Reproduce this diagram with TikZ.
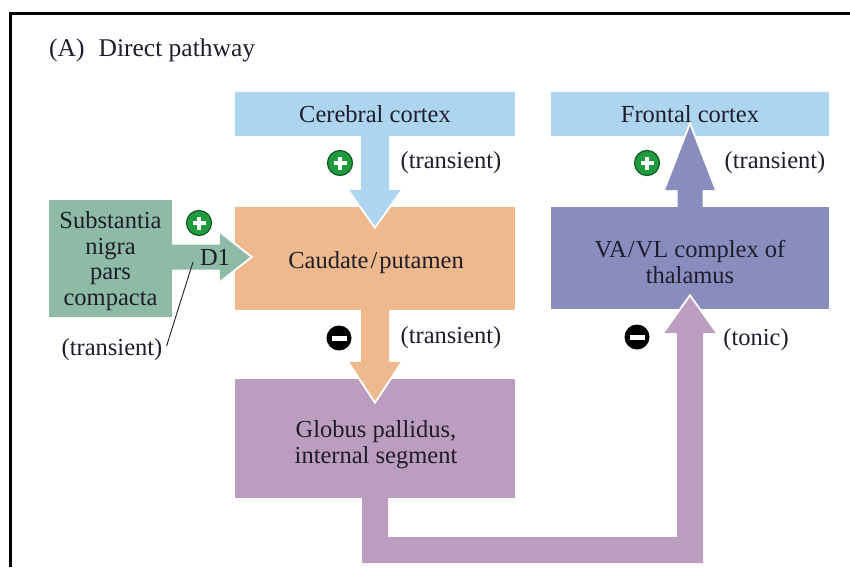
\documentclass[tikz,border=0pt]{standalone}
\usepackage{fontspec}
\setmainfont{Liberation Serif}
\usetikzlibrary{calc}
\definecolor{cortexblue}{HTML}{AED5EF}
\definecolor{caudcol}{HTML}{EEB98C}
\definecolor{sncol}{HTML}{8DBBA5}
\definecolor{gpcol}{HTML}{BB9DBF}
\definecolor{thcol}{HTML}{898DBE}
\definecolor{txtcol}{HTML}{1F1D2B}
\definecolor{plusgreen}{HTML}{1F9A3E}
\definecolor{plusdark}{HTML}{0E5A22}
\begin{document}
\begin{tikzpicture}[x=1pt,y=-1pt,
  every node/.style={text=txtcol, font=\fontsize{24.5}{25.5}\selectfont},
  box/.style={rectangle, inner sep=0pt, draw=none},
  lbl/.style={inner sep=0pt},
  mlbl/.style={inner sep=0pt, align=center},
  plusic/.style={circle, minimum size=25pt, inner sep=0pt, fill=plusgreen, draw=plusdark, line width=1.2pt,
    path picture={
      \draw[white,line width=4.5pt] ([xshift=-6.5pt]path picture bounding box.center) -- ([xshift=6.5pt]path picture bounding box.center);
      \draw[white,line width=4.5pt] ([yshift=-6.5pt]path picture bounding box.center) -- ([yshift=6.5pt]path picture bounding box.center);}},
  minusic/.style={circle, minimum size=25pt, inner sep=0pt, fill=black,
    path picture={
      \draw[white,line width=5pt] ([xshift=-7.5pt]path picture bounding box.center) -- ([xshift=7.5pt]path picture bounding box.center);}},
  headedge/.style={white, line width=1.8pt, line join=miter},
  frameline/.style={black, line width=2.6pt}
]
\useasboundingbox (0,0) rectangle (850,567);
\fill[white] (0,0) rectangle (850,567);
% frame
\draw[frameline] (10.5,567) -- (10.5,13.3) -- (850,13.3);

% boxes
\node[box, fill=cortexblue, minimum width=280pt, minimum height=44pt] (cc) at (375,114) {};
\node[box, fill=cortexblue, minimum width=278pt, minimum height=44pt] (fc) at (690,114) {};
\node[box, fill=caudcol, minimum width=280pt, minimum height=103pt] (cp) at (375,258.5) {};
\node[box, fill=sncol, minimum width=123pt, minimum height=117pt] (sn) at (110.5,258.5) {};
\node[box, fill=thcol, minimum width=278pt, minimum height=102pt] (th) at (690,258) {};
\node[box, fill=gpcol, minimum width=280pt, minimum height=119pt] (gp) at (375,438.5) {};

% arrow: cerebral cortex -> caudate
\fill[cortexblue] ($(cc.south)+(-14,-1)$) -- ($(cp.north)+(-14,-17)$) -- ($(cp.north)+(-27,-17)$)
  -- ($(cp.north)+(0,21)$) -- ($(cp.north)+(27,-17)$) -- ($(cp.north)+(14,-17)$) -- ($(cc.south)+(14,-1)$) -- cycle;
\draw[headedge] ($(cp.north)+(-27,-17)$) -- ($(cp.north)+(0,21)$) -- ($(cp.north)+(27,-17)$);

% arrow: caudate -> globus pallidus
\fill[caudcol] ($(cp.south)+(-14,-1)$) -- ($(gp.north)+(-14,-17)$) -- ($(gp.north)+(-27,-17)$)
  -- ($(gp.north)+(0,24)$) -- ($(gp.north)+(27,-17)$) -- ($(gp.north)+(14,-17)$) -- ($(cp.south)+(14,-1)$) -- cycle;
\draw[headedge] ($(gp.north)+(-27,-17)$) -- ($(gp.north)+(0,24)$) -- ($(gp.north)+(27,-17)$);

% arrow: substantia nigra -> caudate
\fill[sncol] ($(sn.east)+(-1,-14)$) -- ($(cp.west)+(-15,-14)$) -- ($(cp.west)+(-15,-26.5)$)
  -- ($(cp.west)+(17,-1.5)$) -- ($(cp.west)+(-15,23.5)$) -- ($(cp.west)+(-15,11)$) -- ($(sn.east)+(-1,11)$) -- cycle;
\draw[headedge] ($(cp.west)+(-15,-26.5)$) -- ($(cp.west)+(17,-1.5)$) -- ($(cp.west)+(-15,23.5)$);

% arrow: thalamus -> frontal cortex
\fill[thcol] ($(th.north)+(-12.5,1)$) -- ($(fc.south)+(-12.5,54)$) -- ($(fc.south)+(-26,54)$)
  -- ($(fc.south)+(0,-13)$) -- ($(fc.south)+(26,54)$) -- ($(fc.south)+(12.5,54)$) -- ($(th.north)+(12.5,1)$) -- cycle;
\draw[headedge] ($(fc.south)+(-26,54)$) -- ($(fc.south)+(0,-13)$) -- ($(fc.south)+(26,54)$);

% arrow: globus pallidus -> thalamus
\coordinate (bendA) at ($(gp.south)+(0,52)$);
\coordinate (bendB) at (th.south |- bendA);
\fill[gpcol] ($(gp.south)+(-13,-1)$) -- ($(bendA)+(-13,13)$) -- ($(bendB)+(13,13)$)
  -- ($(th.south)+(13,24)$) -- ($(th.south)+(27,24)$) -- ($(th.south)+(0,-14)$)
  -- ($(th.south)+(-27,24)$) -- ($(th.south)+(-13,24)$) -- ($(bendB)+(-13,-13)$)
  -- ($(bendA)+(13,-13)$) -- ($(gp.south)+(13,-1)$) -- cycle;
\draw[headedge] ($(th.south)+(27,24)$) -- ($(th.south)+(0,-14)$) -- ($(th.south)+(-27,24)$);

% title and texts
\node[lbl, anchor=base west, font=\fontsize{25.5}{27}\selectfont] (title) at (49,57) {(A)\hspace{0.55em}Direct pathway};
\node[lbl, anchor=base] (ccT) at (375,122) {Cerebral cortex};
\node[lbl, anchor=base] (fcT) at (690,122) {Frontal cortex};
\node[lbl, anchor=base] (cpT) at (376,268) {Caudate\kern2pt/\kern2pt putamen};
\node[mlbl] (snT) at (110.5,261) {Substantia\\nigra\\pars\\compacta};
\node[mlbl] (thT) at (690,262) {VA\kern1pt/\kern1pt VL complex of\\thalamus};
\node[mlbl] (gpT) at (376,444.5) {Globus pallidus,\\internal segment};
\node[lbl, anchor=base] (d1) at (215,265) {D1};

% signs and qualifiers
\node[plusic] (p1) at (340,163) {};
\node[plusic] (p2) at (199,223) {};
\node[plusic] (p3) at (647,163) {};
\node[minusic] (m1) at (339,338) {};
\node[minusic] (m2) at (637,337) {};
\node[lbl, anchor=base] (t1) at (451,168) {(transient)};
\node[lbl, anchor=base] (t2) at (451,343) {(transient)};
\node[lbl, anchor=base] (t3) at (775,168) {(transient)};
\node[lbl, anchor=base] (t4) at (756,345) {(tonic)};
\node[lbl, anchor=base] (t5) at (112,355) {(transient)};
\coordinate (d1pt) at (193,262);
\draw[txtcol, line width=0.9pt] ($(t5.east)+(4,-3)$) -- (d1pt);
\end{tikzpicture}
\end{document}
